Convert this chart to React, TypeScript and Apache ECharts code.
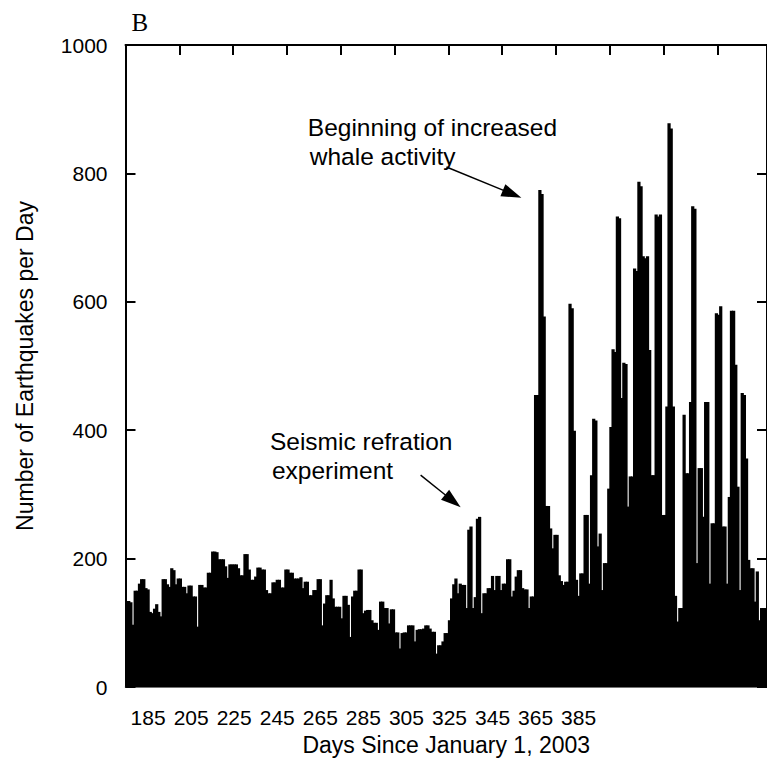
import React, { useEffect, useRef } from "react";
import * as echarts from "echarts";

// Daily earthquake counts, day 175 .. day 472 (days since Jan 1, 2003)
const firstDay = 175;
const quakeCounts = [
  134, 134, 132, 97, 150, 150, 161, 168, 168, 154, // 175-184
  152, 117, 115, 122, 129, 117, 110, 168, 168, 160, // 185-194
  156, 185, 182, 160, 169, 169, 156, 156, 146, 158, // 195-204
  158, 141, 141, 94, 159, 159, 155, 155, 178, 178, // 205-214
  211, 211, 210, 199, 199, 199, 188, 170, 191, 191, // 215-224
  191, 191, 185, 174, 174, 207, 207, 183, 167, 167, // 225-234
  172, 186, 186, 183, 183, 151, 146, 146, 163, 163, // 235-244
  167, 167, 155, 155, 183, 183, 178, 178, 169, 169, // 245-254
  169, 171, 154, 164, 164, 143, 143, 151, 151, 168, // 255-264
  168, 96, 130, 143, 143, 167, 138, 125, 125, 125, // 265-274
  107, 142, 142, 128, 78, 141, 150, 150, 183, 183, // 275-284
  115, 119, 120, 120, 104, 100, 100, 89, 133, 133, // 285-294
  123, 123, 99, 121, 121, 85, 85, 60, 84, 85, // 295-304
  85, 96, 96, 96, 71, 89, 90, 90, 91, 96, // 305-314
  96, 91, 86, 86, 52, 65, 65, 71, 84, 84, // 315-324
  104, 138, 160, 169, 146, 161, 159, 159, 123, 245, // 325-334
  250, 123, 140, 262, 265, 115, 146, 146, 154, 154, // 335-344
  173, 151, 173, 173, 151, 161, 161, 199, 199, 141, // 345-354
  150, 172, 182, 182, 154, 152, 152, 123, 141, 141, // 355-364
  455, 455, 774, 768, 577, 282, 282, 247, 216, 237, // 365-374
  237, 174, 165, 159, 164, 164, 597, 590, 399, 167, // 375-384
  142, 177, 177, 268, 268, 161, 330, 418, 415, 219, // 385-394
  239, 151, 193, 193, 309, 405, 526, 522, 733, 730, // 395-404
  450, 505, 503, 281, 328, 328, 652, 648, 787, 780, // 405-414
  671, 668, 671, 525, 330, 330, 736, 733, 736, 268, // 415-424
  268, 437, 878, 870, 437, 142, 102, 123, 123, 424, // 425-434
  333, 333, 444, 749, 745, 193, 341, 341, 265, 444, // 435-444
  444, 161, 255, 255, 582, 580, 593, 250, 250, 161, // 445-454
  296, 586, 586, 502, 312, 151, 458, 455, 356, 198, // 455-464
  185, 185, 133, 180, 104, 123, 123, 123, // 465-472
];
const dayCategories = quakeCounts.map((_, i) => String(firstDay + i));
const xLabelDays = ["185", "205", "225", "245", "265", "285", "305", "325", "345", "365", "385"];
const yMin = 0;
const yMax = 1000;
const yStep = 200;
const topTickStep = 25;

// Annotations in data space: [day, count]
const refractionLines = ["Seismic refration", "experiment"];
const refractionTextAt = [
  [242.1, 383],
  [243.0, 338],
];
const refractionArrow = [
  [312.1, 330],
  [330.7, 280],
];
const whaleLines = ["Beginning of increased", "whale activity"];
const whaleTextAt = [
  [259.7, 871],
  [260.6, 827],
];
const whaleArrow = [
  [324.1, 810],
  [358.9, 762],
];

const FONT = "Liberation Sans";

function arrowGraphics(chart: any, pts: number[][]) {
  const a = chart.convertToPixel({ xAxisIndex: 1, yAxisIndex: 0 }, pts[0]);
  const b = chart.convertToPixel({ xAxisIndex: 1, yAxisIndex: 0 }, pts[1]);
  const dx = b[0] - a[0];
  const dy = b[1] - a[1];
  const len = Math.sqrt(dx * dx + dy * dy);
  const ux = dx / len;
  const uy = dy / len;
  const L = 20;
  const W = 6.5;
  const bx = b[0] - ux * L;
  const by = b[1] - uy * L;
  return [
    {
      type: "line",
      shape: { x1: a[0], y1: a[1], x2: bx + ux * 4, y2: by + uy * 4 },
      style: { stroke: "#000", lineWidth: 1.4 },
      z: 100,
    },
    {
      type: "polygon",
      shape: {
        points: [
          [b[0], b[1]],
          [bx - uy * W, by + ux * W],
          [bx + uy * W, by - ux * W],
        ],
      },
      style: { fill: "#000" },
      z: 100,
    },
  ];
}

function textGraphics(chart: any, lines: string[], at: number[][]) {
  return lines.map((t, i) => {
    const p = chart.convertToPixel({ xAxisIndex: 1, yAxisIndex: 0 }, at[i]);
    return {
      type: "text",
      x: p[0],
      y: p[1],
      z: 100,
      style: {
        text: t,
        fill: "#000",
        fontSize: 24.5,
        fontFamily: FONT,
        align: "left",
        verticalAlign: "middle",
      },
    };
  });
}

export default function App() {
  const ref = useRef<HTMLDivElement>(null);
  useEffect(() => {
    if (!ref.current) return;
    const chart = echarts.init(ref.current, null, { renderer: "svg" });
    const axisBlack = { color: "#000", width: 2 };
    chart.setOption({
      animation: false,
      backgroundColor: "#fff",
      textStyle: { fontFamily: FONT },
      grid: { left: 125.5, right: -1, top: 45, bottom: 87, containLabel: false },
      xAxis: [
        {
          type: "category",
          data: dayCategories,
          position: "bottom",
          boundaryGap: true,
          axisLine: { show: true, onZero: false, lineStyle: { color: "#444", width: 1.5 } },
          axisTick: { show: false },
          axisLabel: {
            interval: (_i: number, v: string) => xLabelDays.includes(v),
            color: "#000",
            fontSize: 21,
            fontFamily: FONT,
            margin: 20,
          },
          name: "Days Since January 1, 2003",
          nameLocation: "middle",
          nameGap: 46,
          nameTextStyle: { color: "#000", fontSize: 23, fontFamily: FONT },
          splitLine: { show: false },
        },
        {
          type: "value",
          position: "top",
          min: firstDay,
          max: firstDay + quakeCounts.length,
          interval: topTickStep,
          axisLine: { show: true, onZero: false, lineStyle: axisBlack },
          axisTick: { show: true, inside: true, length: 10, lineStyle: axisBlack },
          axisLabel: { show: false },
          splitLine: { show: false },
        },
      ],
      yAxis: [
        {
          type: "value",
          position: "left",
          min: yMin,
          max: yMax,
          interval: yStep,
          axisLine: { show: true, onZero: false, lineStyle: axisBlack },
          axisTick: { show: true, inside: true, length: 10, lineStyle: axisBlack },
          axisLabel: {
            color: "#000",
            fontSize: 21,
            fontFamily: FONT,
            margin: 18,
            formatter: (v: number) => String(v),
          },
          splitLine: { show: false },
          name: "Number of Earthquakes per Day",
          nameLocation: "middle",
          nameGap: 89,
          nameTextStyle: { color: "#000", fontSize: 23, fontFamily: FONT },
        },
        {
          type: "value",
          position: "right",
          min: yMin,
          max: yMax,
          interval: yStep,
          axisLine: { show: true, onZero: false, lineStyle: axisBlack },
          axisTick: { show: true, inside: true, length: 10, lineStyle: axisBlack },
          axisLabel: { show: false },
          splitLine: { show: false },
        },
      ],
      series: [
        {
          type: "bar",
          xAxisIndex: 0,
          yAxisIndex: 0,
          data: quakeCounts,
          barWidth: "150%",
          itemStyle: { color: "#000" },
          emphasis: { disabled: true },
          z: 2,
        },
      ],
    });
    const graphics: any[] = [
      {
        type: "text",
        x: 131.5,
        y: 22,
        style: {
          text: "B",
          fill: "#000",
          fontSize: 25,
          fontFamily: "Liberation Serif",
          align: "left",
          verticalAlign: "middle",
        },
      },
      ...textGraphics(chart, refractionLines, refractionTextAt),
      ...textGraphics(chart, whaleLines, whaleTextAt),
      ...arrowGraphics(chart, refractionArrow),
      ...arrowGraphics(chart, whaleArrow),
    ];
    chart.setOption({ graphic: graphics });
    return () => chart.dispose();
  }, []);
  return (
    <div
      ref={ref}
      style={{ position: "fixed", left: 0, top: 0, width: 767, height: 774, background: "#fff" }}
    />
  );
}
